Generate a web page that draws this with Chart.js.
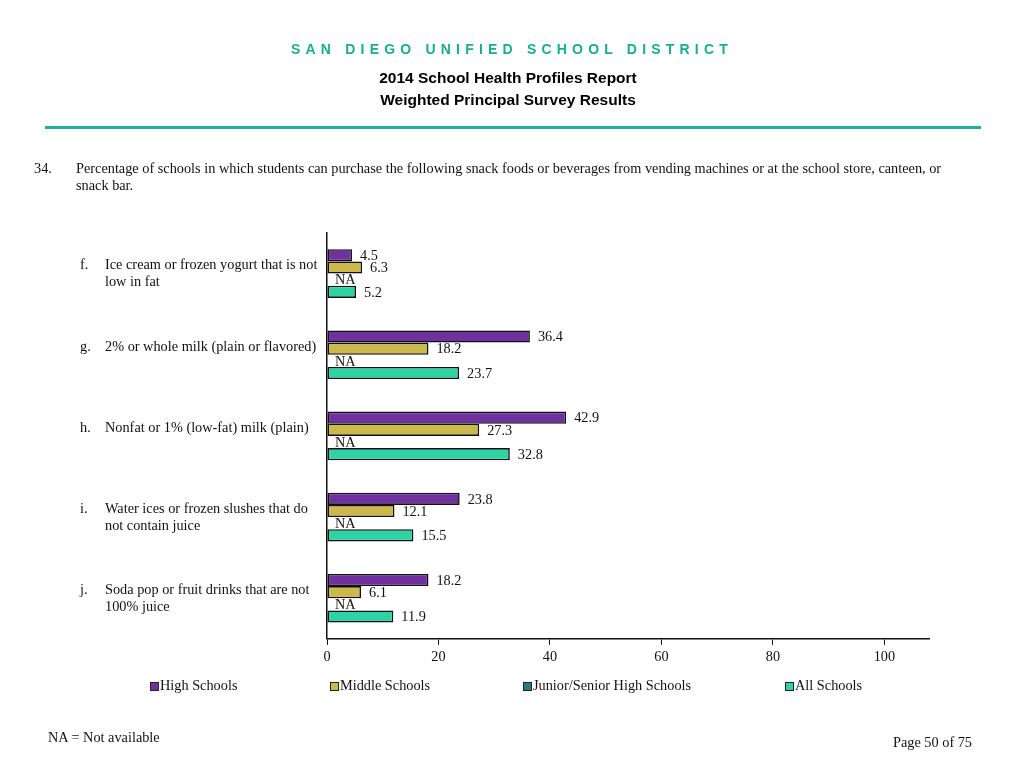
<!DOCTYPE html>
<html>
<head>
<meta charset="utf-8">
<script src="https://cdn.jsdelivr.net/npm/chart.js@4/dist/chart.umd.min.js"></script>
<style>
  body { margin: 0; background: #fff; }
  #page { position: relative; width: 1024px; height: 768px; overflow: hidden; font-family: "Liberation Serif", "Times New Roman", serif; font-size: 14.3px; color: #111; }
  #chart { position: absolute; left: 0; top: 0; }
  .abs { position: absolute; white-space: nowrap; }
  #district { left: 0; width: 1024px; top: 41px; text-align: center; font: bold 14px "Liberation Sans", Arial, sans-serif; letter-spacing: 5.2px; color: #1aae90; }
  .sub { left: 0; width: 1016px; text-align: center; font: bold 15.5px "Liberation Sans", Arial, sans-serif; color: #000; }
  #rule { left: 45px; top: 126px; width: 936px; height: 3px; background: #1fb09a; }
  .legend-box { position: absolute; width: 7px; height: 7px; border: 1px solid #222; }
</style>
</head>
<body>
<div id="page">
  <canvas id="chart" width="1024" height="768"></canvas>
  <div class="abs" id="district">SAN DIEGO UNIFIED SCHOOL DISTRICT</div>
  <div class="abs sub" style="top:69px">2014 School Health Profiles Report</div>
  <div class="abs sub" style="top:91px">Weighted Principal Survey Results</div>
  <div class="abs" id="rule"></div>
  <div class="abs" style="left:34px; top:160px">34.</div>
  <div class="abs" style="left:76px; top:160px; line-height:17px">Percentage of schools in which students can purchase the following snack foods or beverages from vending machines or at the school store, canteen, or<br>snack bar.</div>
  <div id="legend"></div>
  <div class="abs" style="left:48px; top:729px">NA = Not available</div>
  <div class="abs" style="left:893px; top:734px">Page 50 of 75</div>
</div>
<script>
const letters = ['f.', 'g.', 'h.', 'i.', 'j.'];
const categories = [
  ['Ice cream or frozen yogurt that is not', 'low in fat'],
  ['2% or whole milk (plain or flavored)'],
  ['Nonfat or 1% (low-fat) milk (plain)'],
  ['Water ices or frozen slushes that do', 'not contain juice'],
  ['Soda pop or fruit drinks that are not', '100% juice']
];
const seriesNames = ['High Schools', 'Middle Schools', 'Junior/Senior High Schools', 'All Schools'];
const highSchools = [4.5, 36.4, 42.9, 23.8, 18.2];
const middleSchools = [6.3, 18.2, 27.3, 12.1, 6.1];
const juniorSenior = [null, null, null, null, null];
const allSchools = [5.2, 23.7, 32.8, 15.5, 11.9];
const xTicks = [0, 20, 40, 60, 80, 100];

const colors = ['#7030a0', '#cdb94b', '#2a7b7b', '#2ed3a5'];
const legendX = [150, 330, 523, 785];

// legend drawn as html
const legend = document.getElementById('legend');
seriesNames.forEach((name, i) => {
  const box = document.createElement('div');
  box.className = 'legend-box';
  box.style.left = legendX[i] + 'px';
  box.style.top = '682px';
  box.style.background = colors[i];
  legend.appendChild(box);
  const label = document.createElement('div');
  label.className = 'abs';
  label.style.left = (legendX[i] + 10) + 'px';
  label.style.top = '677px';
  label.textContent = name;
  legend.appendChild(label);
});

const serifFamily = '"Liberation Serif", "Times New Roman", serif';

const labelsPlugin = {
  id: 'labels',
  afterDatasetsDraw(chart) {
    const ctx = chart.ctx;
    const xScale = chart.scales.x;
    const yScale = chart.scales.y;
    ctx.save();
    ctx.font = '14.3px ' + serifFamily;
    ctx.fillStyle = '#111';
    ctx.textBaseline = 'middle';
    ctx.textAlign = 'left';
    // value labels
    chart.data.datasets.forEach((ds, di) => {
      chart.getDatasetMeta(di).data.forEach((bar, i) => {
        const v = ds.data[i];
        if (v === null) {
          ctx.fillText('NA', xScale.getPixelForValue(0) + 8, bar.y + 1);
        } else {
          ctx.fillText(v.toFixed(1), bar.x + 8, bar.y + 1);
        }
      });
    });
    // category labels
    categories.forEach((lines, i) => {
      const y = yScale.getPixelForValue(i) - 8;
      ctx.fillText(letters[i], 80, y);
      lines.forEach((line, k) => ctx.fillText(line, 105, y + k * 17));
    });
    ctx.restore();
  }
};

new Chart(document.getElementById('chart'), {
  type: 'bar',
  data: {
    labels: categories.map(c => c.join(' ')),
    datasets: [highSchools, middleSchools, juniorSenior, allSchools].map((d, i) => ({
      label: seriesNames[i],
      data: d,
      backgroundColor: colors[i],
      borderColor: '#111',
      borderWidth: 1.6,
      borderSkipped: false,
      categoryPercentage: 0.6,
      barPercentage: 1.0
    }))
  },
  options: {
    indexAxis: 'y',
    responsive: false,
    animation: false,
    layout: { padding: { left: 327, right: 95, top: 233, bottom: 98 } },
    plugins: { legend: { display: false }, tooltip: { enabled: false } },
    scales: {
      x: {
        min: 0,
        max: 108,
        afterBuildTicks: axis => { axis.ticks = xTicks.map(v => ({ value: v })); },
        grid: { drawOnChartArea: false, drawTicks: true, tickLength: 6, color: '#111', lineWidth: 1 },
        border: { color: '#111', width: 1.5 },
        ticks: { color: '#111', font: { family: serifFamily, size: 14.3 }, padding: 4 }
      },
      y: {
        grid: { display: true, drawOnChartArea: false, drawTicks: false },
        border: { color: '#111', width: 1.5 },
        ticks: { display: false }
      }
    }
  },
  plugins: [labelsPlugin]
});
</script>
</body>
</html>
